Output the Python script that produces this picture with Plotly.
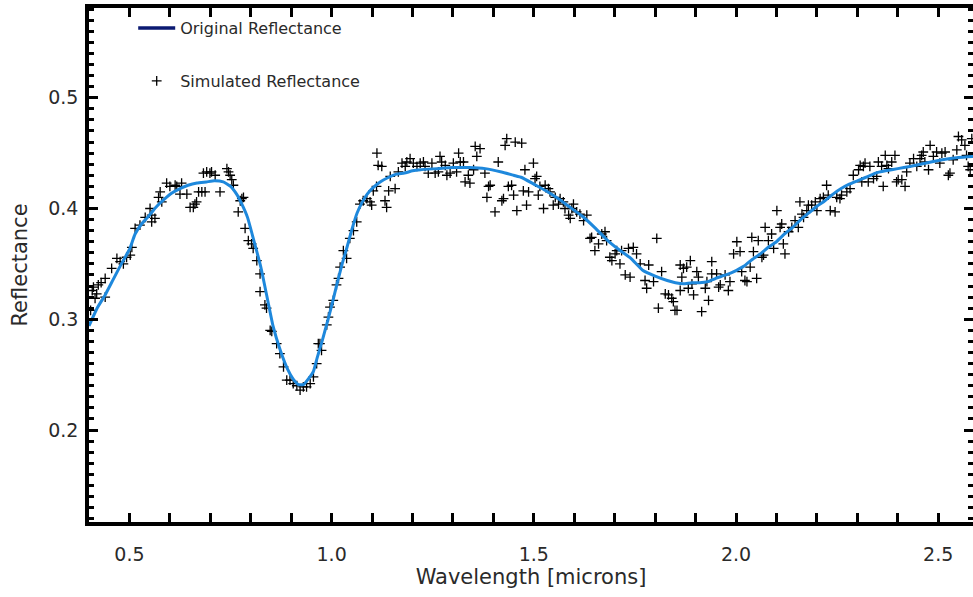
import plotly.graph_objects as go

# ---------------- data ----------------
curve_wl = [0.400, 0.420, 0.440, 0.460, 0.480, 0.500, 0.514, 0.530, 0.545, 0.565,
            0.585, 0.605, 0.625, 0.645, 0.667, 0.690, 0.710, 0.732, 0.750, 0.765,
            0.778, 0.792, 0.807, 0.825, 0.842, 0.855, 0.873, 0.891, 0.905, 0.918,
            0.930, 0.942, 0.955, 0.964, 0.977, 0.989, 1.002, 1.014, 1.026, 1.038,
            1.050, 1.063, 1.076, 1.088, 1.100, 1.120, 1.140, 1.160, 1.180, 1.200,
            1.220, 1.260, 1.300, 1.340, 1.380, 1.420, 1.450, 1.470, 1.500, 1.530,
            1.560, 1.590, 1.620, 1.650, 1.680, 1.710, 1.740, 1.770, 1.800, 1.830,
            1.850, 1.870, 1.890, 1.910, 1.930, 1.950, 1.975, 2.000, 2.020, 2.040,
            2.060, 2.080, 2.100, 2.120, 2.140, 2.160, 2.180, 2.200, 2.220, 2.240,
            2.260, 2.280, 2.300, 2.320, 2.345, 2.370, 2.400, 2.430, 2.470, 2.510,
            2.550, 2.590]
curve_refl = [0.294, 0.310, 0.322, 0.336, 0.350, 0.363, 0.377, 0.386, 0.392, 0.401,
              0.408, 0.414, 0.418, 0.421, 0.423, 0.424, 0.425, 0.424, 0.420, 0.413,
              0.404, 0.392, 0.372, 0.347, 0.317, 0.294, 0.272, 0.255, 0.246, 0.241,
              0.241, 0.246, 0.253, 0.265, 0.281, 0.297, 0.315, 0.333, 0.350, 0.365,
              0.381, 0.396, 0.406, 0.413, 0.418, 0.424, 0.428, 0.431, 0.432, 0.434,
              0.435, 0.436, 0.437, 0.437, 0.436, 0.433, 0.430, 0.428, 0.422, 0.416,
              0.409, 0.401, 0.393, 0.383, 0.372, 0.363, 0.355, 0.344, 0.339, 0.335,
              0.333, 0.332, 0.333, 0.333, 0.334, 0.337, 0.340, 0.344, 0.348, 0.354,
              0.359, 0.365, 0.370, 0.377, 0.383, 0.390, 0.396, 0.402, 0.407, 0.413,
              0.418, 0.422, 0.425, 0.428, 0.432, 0.434, 0.436, 0.438, 0.441, 0.444,
              0.446, 0.447]

sim_wl = [0.404, 0.408, 0.411, 0.415, 0.419, 0.423, 0.430, 0.440, 0.440, 0.456,
          0.469, 0.477, 0.485, 0.493, 0.502, 0.506, 0.514, 0.526, 0.539, 0.551,
          0.555, 0.555, 0.563, 0.572, 0.576, 0.580, 0.592, 0.600, 0.613, 0.617,
          0.625, 0.629, 0.642, 0.650, 0.658, 0.662, 0.666, 0.671, 0.679, 0.683,
          0.687, 0.691, 0.699, 0.703, 0.712, 0.724, 0.741, 0.745, 0.749, 0.753,
          0.757, 0.769, 0.774, 0.778, 0.782, 0.786, 0.794, 0.802, 0.806, 0.815,
          0.823, 0.823, 0.835, 0.839, 0.848, 0.852, 0.864, 0.872, 0.881, 0.889,
          0.897, 0.905, 0.914, 0.922, 0.930, 0.938, 0.947, 0.955, 0.963, 0.967,
          0.971, 0.975, 0.988, 0.992, 0.996, 1.004, 1.012, 1.017, 1.021, 1.029,
          1.037, 1.045, 1.054, 1.062, 1.070, 1.078, 1.087, 1.095, 1.099, 1.103,
          1.111, 1.112, 1.115, 1.124, 1.132, 1.136, 1.141, 1.145, 1.157, 1.165,
          1.174, 1.182, 1.186, 1.194, 1.202, 1.211, 1.219, 1.227, 1.231, 1.239,
          1.248, 1.256, 1.264, 1.268, 1.272, 1.281, 1.285, 1.293, 1.301, 1.309,
          1.314, 1.318, 1.326, 1.330, 1.338, 1.342, 1.351, 1.355, 1.359, 1.367,
          1.379, 1.384, 1.388, 1.392, 1.404, 1.412, 1.421, 1.425, 1.429, 1.433,
          1.437, 1.445, 1.450, 1.454, 1.458, 1.470, 1.474, 1.478, 1.482, 1.487,
          1.499, 1.503, 1.507, 1.511, 1.515, 1.524, 1.528, 1.536, 1.540, 1.548,
          1.553, 1.561, 1.565, 1.573, 1.577, 1.586, 1.590, 1.594, 1.598, 1.606,
          1.614, 1.623, 1.631, 1.639, 1.643, 1.651, 1.660, 1.668, 1.676, 1.680,
          1.688, 1.693, 1.701, 1.705, 1.713, 1.717, 1.726, 1.734, 1.738, 1.746,
          1.754, 1.763, 1.775, 1.779, 1.784, 1.796, 1.804, 1.808, 1.816, 1.825,
          1.833, 1.841, 1.845, 1.849, 1.854, 1.862, 1.862, 1.866, 1.870, 1.878,
          1.882, 1.887, 1.891, 1.895, 1.903, 1.907, 1.915, 1.924, 1.928, 1.932,
          1.940, 1.940, 1.952, 1.957, 1.961, 1.973, 1.981, 1.985, 1.994, 2.002,
          2.010, 2.014, 2.022, 2.027, 2.035, 2.039, 2.043, 2.051, 2.055, 2.064,
          2.068, 2.072, 2.080, 2.088, 2.093, 2.101, 2.109, 2.113, 2.117, 2.121,
          2.130, 2.138, 2.146, 2.154, 2.158, 2.163, 2.167, 2.175, 2.179, 2.187,
          2.196, 2.200, 2.208, 2.216, 2.224, 2.228, 2.233, 2.245, 2.249, 2.257,
          2.261, 2.274, 2.282, 2.290, 2.303, 2.307, 2.311, 2.315, 2.319, 2.327,
          2.331, 2.340, 2.348, 2.352, 2.360, 2.364, 2.369, 2.373, 2.377, 2.385,
          2.393, 2.397, 2.401, 2.410, 2.418, 2.422, 2.430, 2.439, 2.447, 2.455,
          2.459, 2.463, 2.467, 2.476, 2.480, 2.488, 2.496, 2.504, 2.509, 2.517,
          2.525, 2.529, 2.537, 2.546, 2.550, 2.558, 2.566, 2.570, 2.574, 2.579,
          2.583]
sim_refl = [0.308, 0.326, 0.329, 0.319, 0.323, 0.331, 0.333, 0.320, 0.337, 0.346,
            0.355, 0.352, 0.350, 0.356, 0.358, 0.365, 0.382, 0.385, 0.392, 0.400,
            0.394, 0.388, 0.391, 0.410, 0.415, 0.406, 0.423, 0.420, 0.421, 0.420,
            0.413, 0.423, 0.413, 0.401, 0.401, 0.404, 0.406, 0.415, 0.415, 0.432,
            0.415, 0.433, 0.432, 0.433, 0.430, 0.415, 0.436, 0.433, 0.430, 0.426,
            0.421, 0.397, 0.407, 0.409, 0.410, 0.382, 0.371, 0.368, 0.364, 0.353,
            0.341, 0.325, 0.313, 0.310, 0.290, 0.289, 0.278, 0.269, 0.257, 0.245,
            0.245, 0.242, 0.240, 0.236, 0.239, 0.239, 0.242, 0.248, 0.260, 0.278,
            0.278, 0.272, 0.295, 0.302, 0.311, 0.317, 0.331, 0.337, 0.347, 0.362,
            0.355, 0.373, 0.380, 0.388, 0.404, 0.407, 0.409, 0.406, 0.403, 0.416,
            0.420, 0.450, 0.439, 0.438, 0.407, 0.401, 0.416, 0.429, 0.418, 0.433,
            0.441, 0.438, 0.442, 0.445, 0.441, 0.438, 0.441, 0.442, 0.438, 0.432,
            0.441, 0.432, 0.433, 0.447, 0.442, 0.439, 0.430, 0.432, 0.441, 0.433,
            0.450, 0.442, 0.442, 0.424, 0.430, 0.423, 0.435, 0.456, 0.447, 0.454,
            0.432, 0.410, 0.420, 0.421, 0.397, 0.442, 0.407, 0.409, 0.457, 0.463,
            0.420, 0.421, 0.412, 0.460, 0.398, 0.459, 0.416, 0.435, 0.403, 0.415,
            0.441, 0.427, 0.429, 0.412, 0.420, 0.400, 0.421, 0.418, 0.415, 0.403,
            0.410, 0.404, 0.409, 0.406, 0.400, 0.394, 0.391, 0.400, 0.404, 0.397,
            0.395, 0.389, 0.394, 0.373, 0.374, 0.362, 0.368, 0.377, 0.379, 0.371,
            0.356, 0.353, 0.359, 0.362, 0.350, 0.362, 0.340, 0.364, 0.338, 0.365,
            0.359, 0.350, 0.335, 0.328, 0.349, 0.334, 0.373, 0.310, 0.343, 0.323,
            0.322, 0.319, 0.316, 0.308, 0.308, 0.349, 0.326, 0.338, 0.346, 0.347,
            0.328, 0.353, 0.332, 0.322, 0.343, 0.338, 0.307, 0.328, 0.334, 0.317,
            0.352, 0.341, 0.341, 0.329, 0.331, 0.340, 0.326, 0.334, 0.359, 0.370,
            0.361, 0.343, 0.335, 0.334, 0.347, 0.374, 0.361, 0.337, 0.371, 0.356,
            0.358, 0.383, 0.371, 0.377, 0.364, 0.398, 0.383, 0.386, 0.368, 0.359,
            0.379, 0.383, 0.389, 0.383, 0.406, 0.395, 0.392, 0.398, 0.403, 0.403,
            0.406, 0.398, 0.409, 0.410, 0.421, 0.412, 0.398, 0.397, 0.410, 0.409,
            0.412, 0.415, 0.418, 0.430, 0.435, 0.439, 0.424, 0.438, 0.441, 0.424,
            0.438, 0.427, 0.429, 0.442, 0.438, 0.420, 0.448, 0.439, 0.436, 0.442,
            0.448, 0.424, 0.426, 0.426, 0.420, 0.433, 0.441, 0.445, 0.438, 0.445,
            0.448, 0.451, 0.442, 0.435, 0.457, 0.447, 0.451, 0.441, 0.450, 0.451,
            0.430, 0.432, 0.444, 0.453, 0.465, 0.462, 0.457, 0.448, 0.438, 0.435,
            0.463]

x_ticks = [0.5, 1.0, 1.5, 2.0, 2.5]
y_ticks = [0.2, 0.3, 0.4, 0.5]
x_range = [0.4, 2.586]
y_range = [0.117, 0.581]

# ---------------- figure ----------------
FONT = "DejaVu Sans"
TXT = "#2a2a2a"
fig = go.Figure()

fig.add_trace(go.Scatter(
    x=sim_wl, y=sim_refl, mode="markers", name="Simulated Reflectance",
    legendgroup="b", legendrank=2,
    marker=dict(symbol="cross-thin", size=7, color="black",
                line=dict(color="black", width=1.3)),
))
fig.add_trace(go.Scatter(
    x=curve_wl, y=curve_refl, mode="lines", showlegend=False,
    line=dict(color="#1e88dc", width=3, shape="spline", smoothing=0.4),
))
fig.add_trace(go.Scatter(
    x=[None], y=[None], mode="lines", name="Original Reflectance",
    legendgroup="a", legendrank=1,
    line=dict(color="#0b1a72", width=3.5),
))

axis_common = dict(
    showgrid=False, zeroline=False, showline=True, linecolor="black",
    linewidth=3.5, ticks="inside", tickcolor="black", tickwidth=3,
    ticklen=9, tickformat=".1f",
    tickfont=dict(family=FONT, size=19, color=TXT),
)

fig.update_layout(
    width=973, height=597,
    margin=dict(l=89, r=0, t=8, b=75),
    paper_bgcolor="white", plot_bgcolor="white",
    font=dict(family=FONT, color=TXT),
    showlegend=True,
    legend=dict(x=0.05, y=0.994, xanchor="left", yanchor="top",
                bgcolor="rgba(0,0,0,0)", traceorder="grouped",
                tracegroupgap=29, itemwidth=37,
                font=dict(family=FONT, size=16, color=TXT)),
    xaxis=dict(
        **axis_common, range=x_range, tickvals=x_ticks, mirror="allticks",
        minor=dict(dtick=0.1, ticklen=5, tickwidth=3, tickcolor="black",
                   ticks="inside"),
        ticklabelstandoff=12,
        title=dict(text="Wavelength [microns]",
                   font=dict(family=FONT, size=21, color=TXT), standoff=6),
    ),
    yaxis=dict(
        **axis_common, range=y_range, tickvals=y_ticks,
        minor=dict(dtick=0.01, ticklen=5, tickwidth=3, tickcolor="black",
                   ticks="inside"),
        ticklabelstandoff=3,
        title=dict(text="Reflectance",
                   font=dict(family=FONT, size=21, color=TXT), standoff=16),
    ),
    yaxis2=dict(
        overlaying="y", side="right", range=y_range, tickvals=y_ticks,
        showgrid=False, zeroline=False, showline=False, showticklabels=False,
        ticks="inside", tickcolor="black", tickwidth=3, ticklen=9,
        minor=dict(dtick=0.01, ticklen=5, tickwidth=3, tickcolor="black",
                   ticks="inside"),
    ),
)
fig.add_trace(go.Scatter(x=[None], y=[None], yaxis="y2", showlegend=False,
                         hoverinfo="skip"))

fig.write_html("out.html")
